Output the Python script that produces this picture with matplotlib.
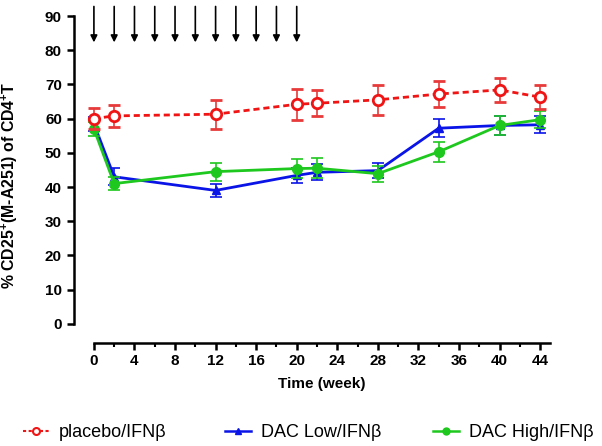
import numpy as np
import matplotlib
matplotlib.use("Agg")
import matplotlib.pyplot as plt
from matplotlib.lines import Line2D

plt.rcParams['font.family'] = ['Liberation Sans', 'DejaVu Sans']
plt.rcParams['mathtext.fontset'] = 'custom'
plt.rcParams['mathtext.rm'] = 'Liberation Sans:bold'
plt.rcParams['mathtext.bf'] = 'Liberation Sans:bold'

# data
weeks = [0, 2, 12, 20, 22, 28, 34, 40, 44]

placebo = [60.0, 60.8, 61.3, 64.2, 64.5, 65.5, 67.2, 68.4, 66.3]
placebo_err = [3.0, 3.3, 4.2, 4.6, 3.8, 4.4, 3.7, 3.4, 3.6]

dac_low = [58.5, 43.0, 39.0, 43.4, 44.3, 44.8, 57.2, 58.0, 58.2]
dac_low_err = [2.0, 2.5, 2.0, 2.3, 2.3, 2.3, 2.6, 2.7, 2.5]

dac_high = [57.0, 41.0, 44.5, 45.4, 45.5, 43.9, 50.3, 58.0, 59.7]
dac_high_err = [2.0, 2.0, 2.6, 2.8, 3.0, 2.3, 3.0, 2.7, 2.5]

dose_weeks = [0, 2, 4, 6, 8, 10, 12, 14, 16, 18, 20]

labels = ['placebo/IFNβ', 'DAC Low/IFNβ', 'DAC High/IFNβ']

RED, BLUE, GREEN = '#f01414', '#0a14e6', '#1ec81e'

fig = plt.figure(figsize=(6.02, 4.46), dpi=100)
ax = fig.add_axes([0.156, 0.274, 0.758, 0.690])

h_low = ax.errorbar(weeks, dac_low, yerr=dac_low_err, color=BLUE, lw=2,
                    marker='^', ms=6, elinewidth=1.2, capsize=4, capthick=1.2,
                    clip_on=False, zorder=3)
h_high = ax.errorbar(weeks, dac_high, yerr=dac_high_err, color=GREEN, lw=2,
                     marker='o', ms=7, elinewidth=1.2, capsize=4, capthick=1.2,
                     clip_on=False, zorder=4)
h_pl = ax.errorbar(weeks, placebo, yerr=placebo_err, color=RED, lw=2,
                   ls=(0, (2.2, 1.4)), marker='o', ms=7.5, mfc='white', mew=2,
                   elinewidth=1.2, capsize=4, capthick=1.2, ecolor='#e83a3a',
                   clip_on=False, zorder=5)
for h in (h_low, h_high, h_pl):
    for c in h[1] + h[2]:
        c.set_clip_on(False)

# dosing arrows
for w in dose_weeks:
    ax.annotate('', xy=(w, 82.3), xytext=(w, 92.8),
                arrowprops=dict(arrowstyle='-|>', color='black', lw=1.2,
                                mutation_scale=10, shrinkA=0, shrinkB=0),
                annotation_clip=False)

ax.set_xlim(0, 45)
ax.set_ylim(0, 90)
ax.set_xticks(np.arange(0, 45, 4))
ax.set_xticks(np.arange(0, 45, 2), minor=True)
ax.set_yticks(np.arange(0, 91, 10))

for s in ['top', 'right']:
    ax.spines[s].set_visible(False)
ax.spines['left'].set_position(('outward', 14.5))
ax.spines['bottom'].set_position(('outward', 13.5))
for s in ['left', 'bottom']:
    ax.spines[s].set_linewidth(1.8)

ax.tick_params(axis='both', which='major', width=1.8, length=5, labelsize=11)
ax.tick_params(axis='x', which='minor', width=1.5, length=3)
for t in ax.get_xticklabels() + ax.get_yticklabels():
    t.set_fontweight('bold')

ax.set_xlabel('Time (week)', fontsize=11, fontweight='bold', labelpad=6)
ax.set_ylabel(r'% CD25$^{+}$(M-A251) of CD4$^{+}$T', fontsize=11.4,
              fontweight='bold')
ax.yaxis.set_label_coords(-0.163, 0.45)

# legend entries spread along the bottom
handles = [
    Line2D([], [], color=RED, ls=(0, (1.5, 1.2)), lw=1.5, marker='o', ms=5,
           mfc='white', mew=1.5),
    Line2D([], [], color=BLUE, lw=1.8, marker='^', ms=5),
    Line2D([], [], color=GREEN, lw=1.8, marker='o', ms=5),
]
x_pos = [23, 225, 433]
for hd, lab, xp in zip(handles, labels, x_pos):
    fig.legend([hd], [lab], loc='center left', bbox_to_anchor=(xp / 602, 0.03),
               frameon=False, fontsize=13, handlelength=1.45,
               handletextpad=0.55, borderpad=0, borderaxespad=0)

fig.savefig('out.png', dpi=100)
